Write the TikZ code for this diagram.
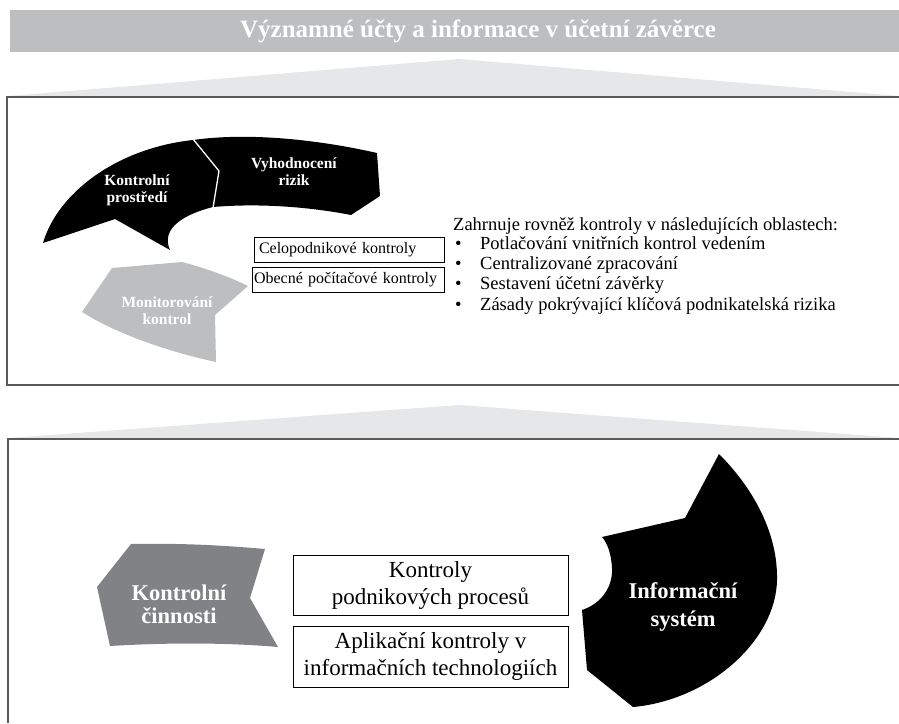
\documentclass[tikz,border=0pt]{standalone}
\usepackage{fontspec}
\setmainfont{Liberation Serif}
\definecolor{bannergray}{RGB}{188,190,192}
\definecolor{roofgray}{RGB}{230,231,232}
\definecolor{framegray}{RGB}{90,90,90}
\definecolor{midgray}{RGB}{128,130,133}
\newcommand\setfs[2]{\fontsize{#1}{#2}\selectfont}
\begin{document}
\begin{tikzpicture}[x=1pt,y=-1pt,
  frame/.style={draw=framegray, line width=2pt},
  roof/.style={fill=roofgray},
  lblsmall/.style={text=white, align=center, inner sep=0pt, font=\setfs{15.5}{17}\bfseries},
  lblbig/.style={text=white, align=center, inner sep=0pt, font=\setfs{22.5}{24}\bfseries},
  tagbox/.style={draw=black, line width=0.8pt, align=left, inner ysep=0pt, minimum height=25pt, font=\setfs{16}{18}},
  procbox/.style={draw=black, line width=1pt, align=center, inner sep=0pt, minimum width=275pt, minimum height=60pt, font=\setfs{23}{27}},
  listtext/.style={anchor=base west, inner sep=0pt, font=\setfs{18.5}{21}}]
\useasboundingbox (0,0) rectangle (899,723);

% heading banner
\fill[bannergray] (10,10) rectangle (899,52);
\node[text=white, font=\setfs{25}{28}\bfseries] (title) at (478,31) {Významné účty a informace v účetní závěrce};

% upper roof and frame
\fill[roof] (9,96) -- (459,59) -- (899,96) -- cycle;
\draw[frame] (899,97) -- (7,97) -- (7,385) -- (899,385);

% control environment segment
\fill[black] (43,243) .. controls (58,192) and (118,148) .. (193,140)
  -- (219,171) -- (213,207)
  .. controls (185,214) and (160,228) .. (170,250)
  -- (115,219) -- cycle;
% risk assessment segment
\fill[black] (193,140) .. controls (250,132) and (320,140) .. (377,153)
  -- (380,196) -- (351,215)
  .. controls (310,207) and (260,203) .. (213,207)
  -- (219,171) -- cycle;
\draw[white, line width=1.3pt] (193,139) -- (219,171) -- (213,208);
% monitoring segment
\fill[bannergray] (182,262) -- (112,268) -- (82,312)
  .. controls (110,330) and (160,350) .. (216,362)
  -- (215,315) -- (248,286)
  .. controls (230,277) and (205,268) .. (182,262) -- cycle;

\node[lblsmall] (env) at (137,190) {Kontrolní\\prostředí};
\node[lblsmall] (risk) at (294,172) {Vyhodnocení\\rizik};
\node[lblsmall] (mon) at (167,311) {Monitorování\\kontrol};

\node[tagbox, inner xsep=5pt, text width=180pt] (entity) at (349,249.5) {Celopodnikové kontroly};
\node[tagbox, inner xsep=2pt, text width=188pt] (itgc) at (348,280) {Obecné počítačové kontroly};

\node[listtext] (intro) at (453,230) {Zahrnuje rovněž kontroly v následujících oblastech:};
\node[listtext] (b1) at (455,249) {•};
\node[listtext] (i1) at (480,249) {Potlačování vnitřních kontrol vedením};
\node[listtext] (b2) at (455,269) {•};
\node[listtext] (i2) at (480,269) {Centralizované zpracování};
\node[listtext] (b3) at (455,289.5) {•};
\node[listtext] (i3) at (480,289.5) {Sestavení účetní závěrky};
\node[listtext] (b4) at (455,310.5) {•};
\node[listtext] (i4) at (480,310.5) {Zásady pokrývající klíčová podnikatelská rizika};

% lower roof and frame
\fill[roof] (9,438) -- (459,405) -- (899,438) -- cycle;
\draw[frame] (899,439) -- (8,439) -- (8,723);

% control activities chevron
\fill[midgray] (131,544) .. controls (175,543) and (220,545) .. (265,549)
  -- (250,598) -- (278,647)
  .. controls (220,642) and (160,643) .. (110,646)
  -- (97,587) -- cycle;
\node[lblbig, font=\setfs{22.5}{23}\bfseries] (act) at (179,604) {Kontrolní\\činnosti};

% information system segment
\fill[black] (719,454) .. controls (755,490) and (778,535) .. (777,580)
  .. controls (776,640) and (710,700) .. (633,707)
  -- (587,670) -- (582,610)
  .. controls (603,603) and (613,585) .. (612,568)
  .. controls (611,552) and (607,543) .. (602,537)
  -- (685,518) -- cycle;
\node[lblbig, font=\setfs{22.5}{28}\bfseries] (info) at (683,607) {Informační\\systém};

\node[procbox] (proc) at (430.5,585) {Kontroly\\podnikových procesů};
\node[procbox, minimum height=61pt] (app) at (430.5,656.5) {Aplikační kontroly v\\informačních technologiích};
\end{tikzpicture}
\end{document}
